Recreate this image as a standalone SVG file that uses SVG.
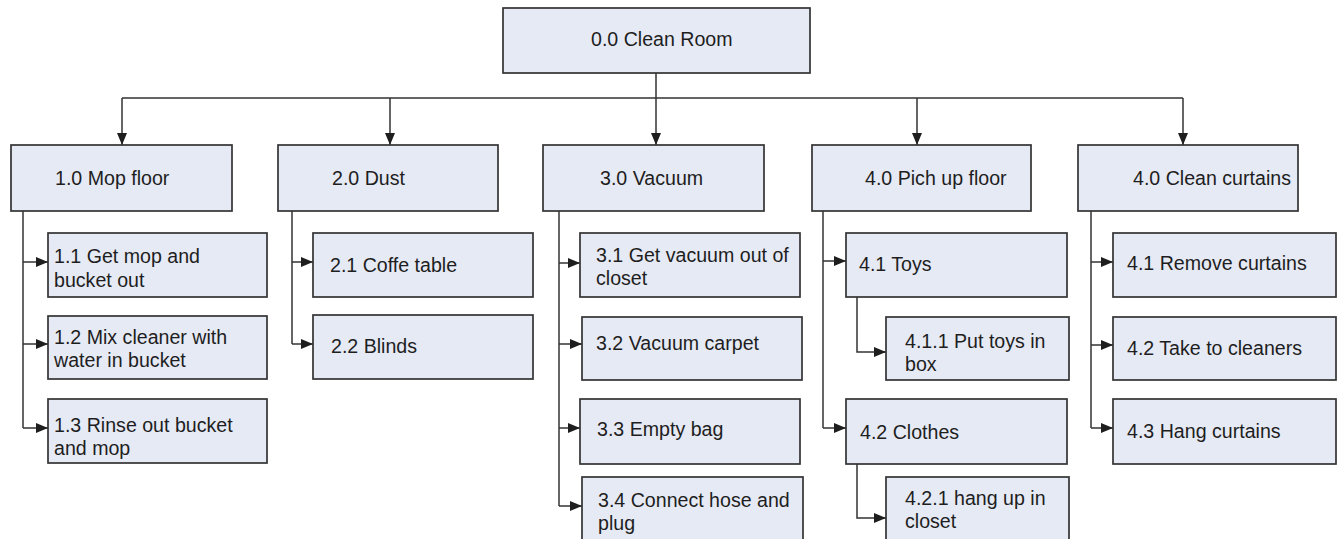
<svg xmlns="http://www.w3.org/2000/svg" width="1338" height="539" viewBox="0 0 1338 539">
<style>
.box{fill:#e6eaf5;stroke:#333;stroke-width:1.7}
.t{font-family:"Liberation Sans",Arial,sans-serif;font-size:19.6px;fill:#1e1e1e}
.c{fill:none;stroke:#333;stroke-width:1.5}
.a{marker-end:url(#arr)}
</style>
<defs>
<marker id="arr" markerUnits="userSpaceOnUse" markerWidth="12" markerHeight="10" refX="12" refY="5" orient="auto">
<path d="M0,0 L12,5 L0,10 z" fill="#1e1e1e"/>
</marker>
</defs>
<rect width="1338" height="539" fill="#ffffff"/>
<g id="connectors">
<path class="c" d="M656,73 V98 M122,98 H1183"/>
<path class="c a" d="M122,98 V145"/>
<path class="c a" d="M390,98 V145"/>
<path class="c a" d="M656,98 V145"/>
<path class="c a" d="M917,98 V145"/>
<path class="c a" d="M1183,98 V145"/>
<path class="c" d="M23,211 V428"/>
<path class="c a" d="M23,262 H48"/>
<path class="c a" d="M23,344 H48"/>
<path class="c a" d="M23,428 H48"/>
<path class="c" d="M292,211 V344"/>
<path class="c a" d="M292,262 H313"/>
<path class="c a" d="M292,344 H313"/>
<path class="c" d="M559,211 V506"/>
<path class="c a" d="M559,263 H580"/>
<path class="c a" d="M559,344 H582"/>
<path class="c a" d="M559,428 H580"/>
<path class="c a" d="M559,506 H582"/>
<path class="c" d="M823,211 V428"/>
<path class="c a" d="M823,261 H846"/>
<path class="c a" d="M823,428 H846"/>
<path class="c a" d="M857,297 V352 H886"/>
<path class="c a" d="M857,464 V518 H886"/>
<path class="c" d="M1091,211 V428"/>
<path class="c a" d="M1091,262 H1113"/>
<path class="c a" d="M1091,345 H1113"/>
<path class="c a" d="M1091,428 H1113"/>
</g>
<g id="n0"><rect class="box" x="503" y="8" width="307" height="65"/><text class="t" x="591" y="46">0.0 Clean Room</text></g>
<g id="n1"><rect class="box" x="11" y="145" width="221" height="66"/><text class="t" x="55" y="185">1.0 Mop floor</text></g>
<g id="n2"><rect class="box" x="278" y="145" width="220" height="66"/><text class="t" x="332" y="185">2.0 Dust</text></g>
<g id="n3"><rect class="box" x="543" y="145" width="221" height="66"/><text class="t" x="600" y="185">3.0 Vacuum</text></g>
<g id="n4"><rect class="box" x="812" y="145" width="219" height="66"/><text class="t" x="865" y="185">4.0 Pich up floor</text></g>
<g id="n5"><rect class="box" x="1078" y="145" width="220" height="66"/><text class="t" x="1133" y="185">4.0 Clean curtains</text></g>
<g id="n1_1"><rect class="box" x="48" y="233" width="219" height="64"/><text class="t" x="54" y="263">1.1 Get mop and</text><text class="t" x="54" y="287">bucket out</text></g>
<g id="n1_2"><rect class="box" x="48" y="316" width="219" height="63"/><text class="t" x="54" y="344">1.2 Mix cleaner with</text><text class="t" x="54" y="367">water in bucket</text></g>
<g id="n1_3"><rect class="box" x="48" y="399" width="219" height="64"/><text class="t" x="54" y="432">1.3 Rinse out bucket</text><text class="t" x="54" y="455">and mop</text></g>
<g id="n2_1"><rect class="box" x="313" y="233" width="220" height="64"/><text class="t" x="330" y="272">2.1 Coffe table</text></g>
<g id="n2_2"><rect class="box" x="313" y="315" width="220" height="64"/><text class="t" x="331" y="353">2.2 Blinds</text></g>
<g id="n3_1"><rect class="box" x="580" y="233" width="220" height="64"/><text class="t" x="596" y="262">3.1 Get vacuum out of</text><text class="t" x="596" y="285">closet</text></g>
<g id="n3_2"><rect class="box" x="582" y="317" width="220" height="63"/><text class="t" x="596" y="350">3.2 Vacuum carpet</text></g>
<g id="n3_3"><rect class="box" x="580" y="399" width="220" height="65"/><text class="t" x="597" y="436">3.3 Empty bag</text></g>
<g id="n3_4"><rect class="box" x="582" y="477" width="221" height="70"/><text class="t" x="598" y="507">3.4 Connect hose and</text><text class="t" x="598" y="530">plug</text></g>
<g id="n4_1"><rect class="box" x="846" y="233" width="221" height="64"/><text class="t" x="859" y="271">4.1 Toys</text></g>
<g id="n4_1_1"><rect class="box" x="886" y="317" width="183" height="63"/><text class="t" x="905" y="348">4.1.1 Put toys in</text><text class="t" x="905" y="371">box</text></g>
<g id="n4_2"><rect class="box" x="846" y="399" width="221" height="65"/><text class="t" x="860" y="439">4.2 Clothes</text></g>
<g id="n4_2_1"><rect class="box" x="886" y="477" width="183" height="70"/><text class="t" x="905" y="505">4.2.1 hang up in</text><text class="t" x="905" y="528">closet</text></g>
<g id="n5_1"><rect class="box" x="1113" y="233" width="223" height="64"/><text class="t" x="1127" y="270">4.1 Remove curtains</text></g>
<g id="n5_2"><rect class="box" x="1113" y="317" width="223" height="63"/><text class="t" x="1127" y="355">4.2 Take to cleaners</text></g>
<g id="n5_3"><rect class="box" x="1113" y="399" width="223" height="65"/><text class="t" x="1127" y="438">4.3 Hang curtains</text></g>
</svg>
